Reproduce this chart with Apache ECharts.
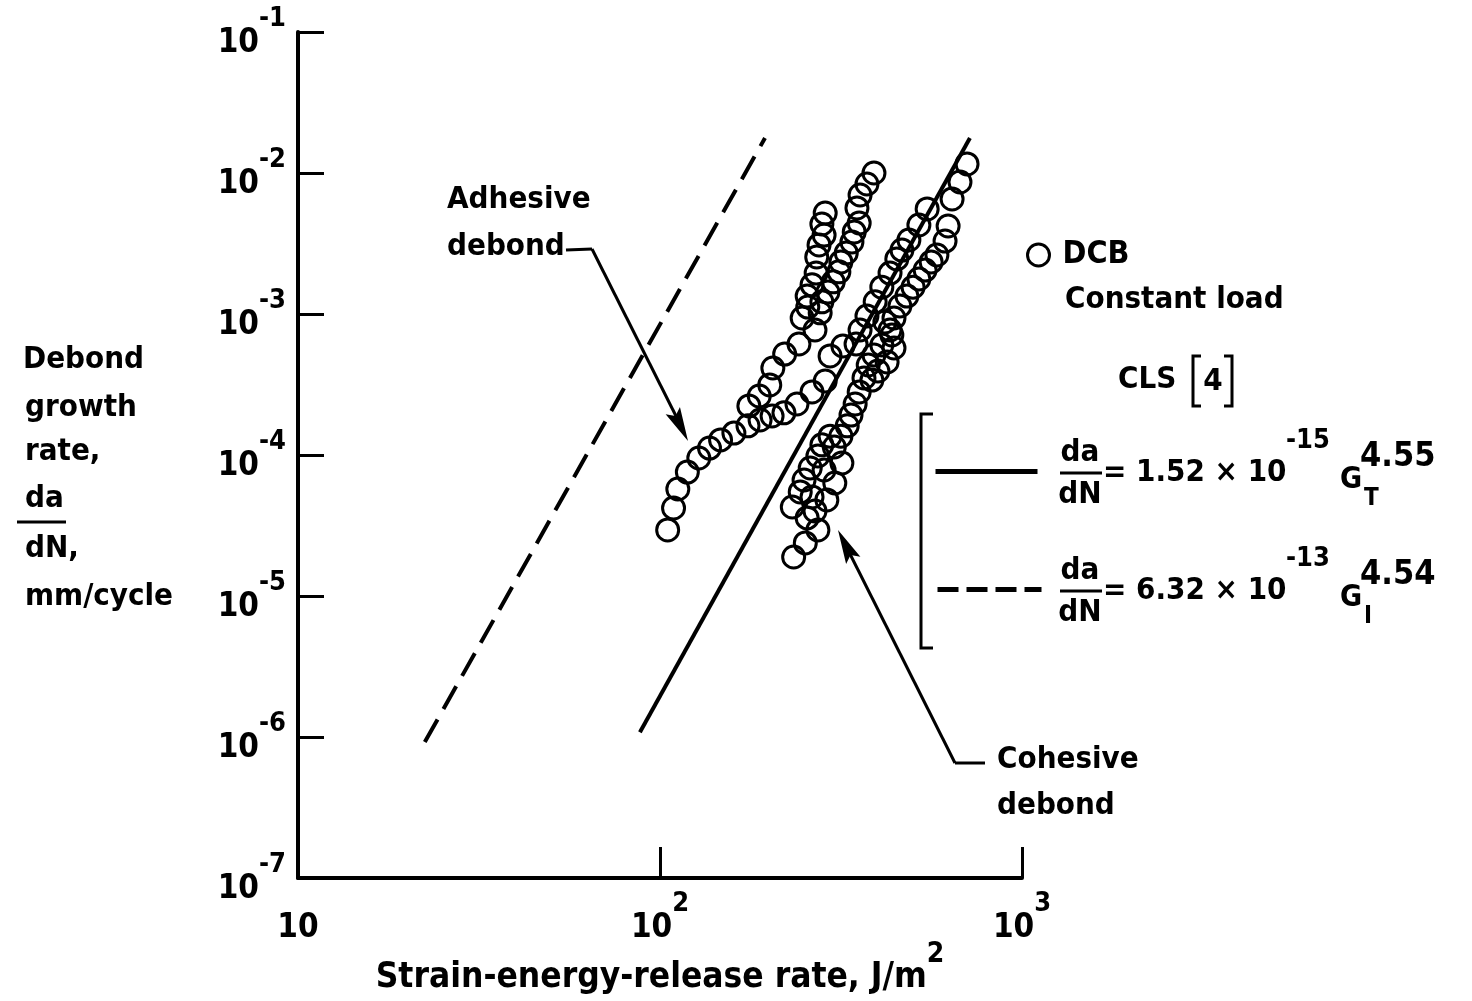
<!DOCTYPE html>
<html><head><meta charset="utf-8">
<script src="https://cdn.jsdelivr.net/npm/echarts@6/dist/echarts.min.js"></script>
<style>html,body{margin:0;padding:0;background:#fff}#c{width:1472px;height:1001px}</style>
</head><body><div id="c"></div>
<script>
// ---- data (G in J/m^2, da/dN in mm/cycle) ----
const xTickValues = [10, 100, 1000];
const yTickValues = [1e-7, 1e-6, 1e-5, 1e-4, 1e-3, 1e-2, 1e-1];
const adhesiveDebond = [
  [105,2.94e-5],[109,4.21e-5],[112,5.74e-5],[119,7.57e-5],[128,9.52e-5],[137,1.12e-4],
  [147,1.28e-4],[160,1.43e-4],[175,1.61e-4],[189,1.77e-4],[204,1.89e-4],[220,1.99e-4],
  [239,2.30e-4],[263,2.80e-4],[286,3.35e-4],[295,5.04e-4],[320,5.93e-4],[348,6.13e-4],
  [176,2.23e-4],[188,2.62e-4],[201,3.14e-4],[205,4.14e-4],[221,5.20e-4],[242,6.13e-4],
  [247,9.37e-4],[256,1.12e-3],[255,1.34e-3],[263,1.61e-3],[270,1.95e-3],[271,2.54e-3],
  [275,3.09e-3],[284,3.63e-3],[280,4.35e-3],[286,5.20e-3],
  [268,7.70e-4],[277,1.02e-3],[280,1.22e-3],[291,1.43e-3],[301,1.69e-3],[312,1.99e-3],
  [316,2.34e-3],[327,2.71e-3],[339,3.24e-3],[344,3.82e-3],[355,4.42e-3],[350,5.65e-3],
  [357,6.98e-3],[373,8.36e-3],[390,1.0e-2]
];
const cohesiveDebond = [
  [705,1.16e-2],[674,8.63e-3],[641,6.54e-3],[547,5.56e-3],[519,4.28e-3],[487,3.35e-3],
  [466,2.84e-3],[451,2.46e-3],[432,1.95e-3],[410,1.55e-3],[393,1.22e-3],[373,9.68e-4],[357,7.70e-4],
  [625,4.21e-3],[613,3.29e-3],[582,2.62e-3],[561,2.34e-3],[540,2.05e-3],[519,1.77e-3],
  [500,1.55e-3],[481,1.34e-3],[460,1.14e-3],[443,9.37e-4],[432,7.70e-4],[443,5.74e-4],
  [424,4.57e-4],[400,3.94e-4],[385,3.40e-4],
  [418,8.78e-4],[437,7.10e-4],[410,6.03e-4],[390,5.12e-4],[376,4.35e-4],[366,3.52e-4],
  [355,2.80e-4],[346,2.30e-4],[337,1.92e-4],[329,1.61e-4],[316,1.36e-4],[303,1.14e-4],
  [318,8.78e-5],[304,6.33e-5],[289,4.80e-5],[273,2.94e-5],
  [295,1.36e-4],[280,1.18e-4],[273,9.84e-5],[260,8.09e-5],[250,6.65e-5],[244,5.47e-5],
  [232,4.28e-5],[268,4.01e-5],[255,3.58e-5],[252,2.38e-5],[234,1.89e-5],[263,5.04e-5],[284,7.83e-5]
];
const clsTotalFit = [[88,1.08e-6],[718,1.77e-2]];     // da/dN = 1.52e-15 G_T^4.55
const clsModeIFit = [[22.4,9.2e-7],[195,1.77e-2]];    // da/dN = 6.32e-13 G_I^4.54
const seriesNames = ['DCB', 'CLS total', 'CLS mode I'];

// ---- styling ----
const FONT = "'DejaVu Sans Condensed','Liberation Sans Narrow','DejaVu Sans',sans-serif";
const FW = 'bold';
const FS = 31;
const rich = {
  b: {fontSize: 33, fontFamily: FONT, fontWeight: FW, color: '#000', lineHeight: 36, padding: [22,0,0,0]},
  s: {fontSize: 27, fontFamily: FONT, fontWeight: FW, color: '#000', lineHeight: 28, padding: [0,0,26,0]}
};
function expLabel(v) {
  const e = Math.round(Math.log10(v));
  if (e === 1) return '{b|10}';
  return '{b|10}{s|' + e + '}';
}
function txt(x, y, text, opt) {
  opt = opt || {};
  return {type: 'text', x: x, y: y, silent: true, z: 10,
    style: {text: text, fill: '#000', fontSize: opt.fs || FS, fontFamily: FONT, fontWeight: FW,
      align: opt.align || 'left', verticalAlign: 'middle'}};
}
function seg(x1, y1, x2, y2, w) {
  return {type: 'line', silent: true, z: 10, shape: {x1: x1, y1: y1, x2: x2, y2: y2},
    style: {stroke: '#000', lineWidth: w || 3}};
}
function poly(points, w) {
  return {type: 'polyline', silent: true, z: 10, shape: {points: points},
    style: {stroke: '#000', lineWidth: w || 3, fill: null}};
}
function arrowHead(x1, y1, x2, y2, len, half) {
  const dx = x2 - x1, dy = y2 - y1, L = Math.sqrt(dx*dx + dy*dy);
  const ux = dx / L, uy = dy / L, px = -uy, py = ux;
  const bx = x2 - ux * len, by = y2 - uy * len;
  return {type: 'polygon', silent: true, z: 10,
    shape: {points: [[x2, y2], [bx + px*half, by + py*half], [bx + ux*6, by + uy*6], [bx - px*half, by - py*half]]},
    style: {fill: '#000'}};
}
function formula(x, y, coef, exp, sub, pow) {
  return [
    txt(x + 20, y - 20, 'da', {align: 'center'}),
    seg(x, y, x + 42, y, 3),
    txt(x + 20, y + 22, 'dN', {align: 'center'}),
    txt(x + 43, y, '= ' + coef + ' × 10'),
    txt(x + 226, y - 32, exp, {fs: 27}),
    txt(x + 280, y + 7, 'G', {fs: 30}),
    txt(x + 304, y + 26, sub, {fs: 24}),
    txt(x + 300, y - 16, pow, {fs: 34})
  ];
}

const graphics = [].concat(
  // y-axis title
  [txt(23, 360, 'Debond'), txt(25, 408, 'growth'), txt(25, 452, 'rate,'),
   txt(25, 499, 'da'), seg(17, 522, 66, 522, 3), txt(25, 549, 'dN,'), txt(25, 597, 'mm/cycle')],
  // annotations
  [txt(447, 200, 'Adhesive'), txt(447, 247, 'debond'),
   seg(566, 250, 592, 249, 3), seg(592, 249, 683, 430, 3), arrowHead(592, 249, 688, 441, 34, 8),
   txt(997, 760, 'Cohesive'), txt(997, 806, 'debond'),
   seg(985, 763, 955, 763, 3), seg(955, 763, 843, 540, 3), arrowHead(955, 763, 838, 530, 34, 8)],
  // legend texts
  [txt(1065, 300, 'Constant load'), txt(1118, 380, 'CLS'), txt(1213, 382, '4', {align: 'center'}),
   poly([[1201, 356], [1193, 356], [1193, 406], [1201, 406]], 3),
   poly([[1224, 356], [1232, 356], [1232, 406], [1224, 406]], 3),
   poly([[933, 414], [921, 414], [921, 648], [933, 648]], 3)],
  formula(1060, 473, '1.52', '-15', 'T', '4.55'),
  formula(1060, 591, '6.32', '-13', 'I', '4.54')
);

const chart = echarts.init(document.getElementById('c'), null, {renderer: 'canvas'});
chart.setOption({
  animation: false,
  backgroundColor: '#fff',
  grid: {left: 298, right: 450, top: 32, bottom: 123, containLabel: false, outerBoundsMode: 'none'},
  xAxis: {
    type: 'log', logBase: 10, min: xTickValues[0], max: xTickValues[xTickValues.length - 1],
    name: '{t|Strain-energy-release rate, J/m}{s|2}', nameLocation: 'middle', nameGap: 72,
    nameMoveOverlap: false,
    nameTextStyle: {rich: {
      t: {fontSize: 35, fontFamily: FONT, fontWeight: FW, color: '#000', lineHeight: 38, padding: [18,0,0,0]},
      s: {fontSize: 28, fontFamily: FONT, fontWeight: FW, color: '#000', lineHeight: 28, padding: [0,0,28,0]}}},
    axisLine: {show: true, lineStyle: {color: '#000', width: 4}},
    axisTick: {show: true, inside: true, length: 31, lineStyle: {color: '#000', width: 3}},
    minorTick: {show: false}, splitLine: {show: false}, minorSplitLine: {show: false},
    axisLabel: {margin: 21, formatter: expLabel, rich: rich, color: '#000'}
  },
  yAxis: {
    type: 'log', logBase: 10, min: yTickValues[0], max: yTickValues[yTickValues.length - 1],
    axisLine: {show: true, lineStyle: {color: '#000', width: 4}},
    axisTick: {show: true, inside: true, length: 26, lineStyle: {color: '#000', width: 3}},
    minorTick: {show: false}, splitLine: {show: false}, minorSplitLine: {show: false},
    axisLabel: {margin: 12, formatter: expLabel, rich: rich, color: '#000'}
  },
  legend: [
    {left: 1026, top: 237, padding: 0, itemWidth: 22, itemHeight: 22, itemGap: 0,
     data: [{name: seriesNames[0], icon: 'circle', itemStyle: {color: 'rgba(0,0,0,0)', borderColor: '#000', borderWidth: 3}}],
     textStyle: {fontSize: 32, fontFamily: FONT, fontWeight: FW, color: '#000', lineHeight: 36, padding: [0,0,0,8]}},
    {left: 933, top: 466, padding: 0, itemWidth: 102, itemHeight: 14,
     data: [{name: seriesNames[1]}], formatter: function () { return ''; },
     itemStyle: {opacity: 0}, lineStyle: {color: '#000', width: 5, type: 'solid'},
     textStyle: {fontSize: 10, lineHeight: 14}},
    {left: 935, top: 584, padding: 0, itemWidth: 104, itemHeight: 14,
     data: [{name: seriesNames[2]}], formatter: function () { return ''; },
     itemStyle: {opacity: 0}, lineStyle: {color: '#000', width: 5, type: [21, 8]},
     textStyle: {fontSize: 10, lineHeight: 14}}
  ],
  series: [
    {name: seriesNames[0], type: 'scatter', symbol: 'circle', symbolSize: 22,
     data: adhesiveDebond.concat(cohesiveDebond),
     itemStyle: {color: 'rgba(0,0,0,0)', borderColor: '#000', borderWidth: 3, opacity: 1},
     emphasis: {disabled: true}, z: 3},
    {name: seriesNames[1], type: 'line', data: clsTotalFit, symbol: 'none', showSymbol: false,
     lineStyle: {color: '#000', width: 4, type: 'solid'}, itemStyle: {color: '#000'}, z: 2},
    {name: seriesNames[2], type: 'line', data: clsModeIFit, symbol: 'none', showSymbol: false,
     lineStyle: {color: '#000', width: 4, type: [26, 12]}, itemStyle: {color: '#000'}, z: 2}
  ],
  graphic: graphics
});
</script>
</body></html>
